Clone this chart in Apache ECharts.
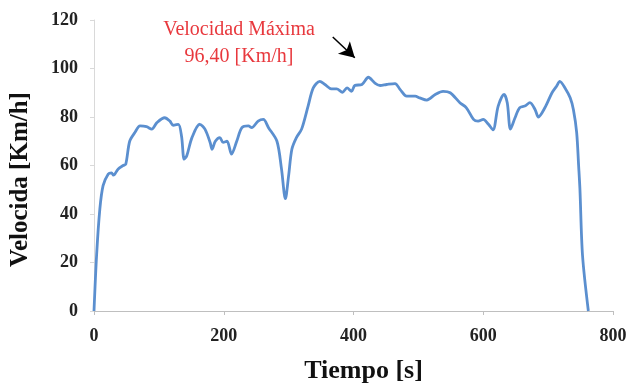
<!DOCTYPE html>
<html><head><meta charset="utf-8">
<script src="https://cdn.jsdelivr.net/npm/echarts@6/dist/echarts.min.js"></script>
<style>html,body{margin:0;padding:0;background:#fff}#c{width:634px;height:389px}</style>
</head><body><div id="c"></div>
<script>
const tiempo = [0,4,9,14,22,27,30,37,45,49,55,63,71,81,89,97,109,117,122,130,135,139,143,151,163,171,179,182,187,194,199,205,212,220,228,238,243,253,261,269,282,289,295,300,305,312,320,330,338,348,356,366,374,383,390,397,402,413,423,433,441,451,464,472,482,495,502,513,526,538,549,564,574,585,592,600,608,615,623,632,637,642,649,656,664,672,680,685,695,706,713,718,726,734,739,744,747,749,753,762];
const velocidad = [0,23,42,51.7,56.5,57,56,58.5,60,60.6,70,73.6,76.3,76,75,77.7,79.7,78.3,76.6,77,72,62.6,64,71.5,77,75,69.5,66.7,70,71.5,69.5,70,64.7,70,75.6,76.3,75.6,78.3,79,75.6,70,58.6,46.3,55.8,66.7,71.5,75,84.5,92,94.7,93.4,91.6,91.6,90.2,92,90.6,93,93.4,96.4,94,93,93.4,93.8,91.3,88.6,88.6,87.9,87,89.3,90.6,90,85.9,83.8,79,78.3,79,77,74.7,84.5,89.3,85.9,75,79.7,83.8,84.5,85.9,83,80,83.8,90,92.7,94.7,92,87.9,83,73.6,60,50.4,23,0];
const xTicks = [0,200,400,600,800];
const yTicks = [0,20,40,60,80,100,120];
const anotacion = ['Velocidad Máxima','96,40 [Km/h]'];
const flecha = [[368,113],[402,104.4]];

const serif = '"Liberation Serif","DejaVu Serif",serif';
const chart = echarts.init(document.getElementById('c'));
chart.setOption({
  animation:false,
  backgroundColor:'#fff',
  title:{text:anotacion.join('\n'),left:234,top:11,textAlign:'center',
    textStyle:{fontFamily:serif,fontWeight:'normal',fontSize:20,color:'#e8383d',lineHeight:27}},
  grid:{left:94,right:21,top:20,bottom:76,containLabel:false},
  xAxis:{type:'value',min:xTicks[0],max:xTicks[xTicks.length-1],interval:200,
    name:'Tiempo [s]',nameLocation:'middle',nameGap:47,
    nameTextStyle:{fontFamily:serif,fontWeight:'bold',fontSize:26,color:'#111',padding:[0,0,0,20]},
    axisLine:{show:true,lineStyle:{color:'#bfbfbf',width:1}},
    axisTick:{show:true,length:4,lineStyle:{color:'#bfbfbf'}},
    splitLine:{show:false},
    axisLabel:{fontFamily:serif,fontWeight:'bold',fontSize:18,color:'#222',margin:16}},
  yAxis:{type:'value',min:yTicks[0],max:yTicks[yTicks.length-1],interval:20,
    name:'Velocida [Km/h]',nameLocation:'middle',nameGap:61,nameRotate:90,
    nameTextStyle:{fontFamily:serif,fontWeight:'bold',fontSize:25,color:'#111',padding:[0,28,0,0]},
    axisLine:{show:true,lineStyle:{color:'#d9d9d9',width:1}},
    axisTick:{show:true,length:4,lineStyle:{color:'#d9d9d9'}},
    splitLine:{show:false},
    axisLabel:{fontFamily:serif,fontWeight:'bold',fontSize:18,color:'#222',margin:16}},
  series:[{type:'line',data:tiempo.map((t,i)=>[t,velocidad[i]]),
    showSymbol:false,smooth:0.3,
    lineStyle:{color:'#5b8fcf',width:2.8},
    markLine:{silent:true,symbol:['none','arrow'],symbolSize:[13,15],
      lineStyle:{color:'#000',width:1.5,type:'solid'},label:{show:false},
      data:[[{coord:flecha[0]},{coord:flecha[1]}]]}
  }]
});
</script></body></html>
